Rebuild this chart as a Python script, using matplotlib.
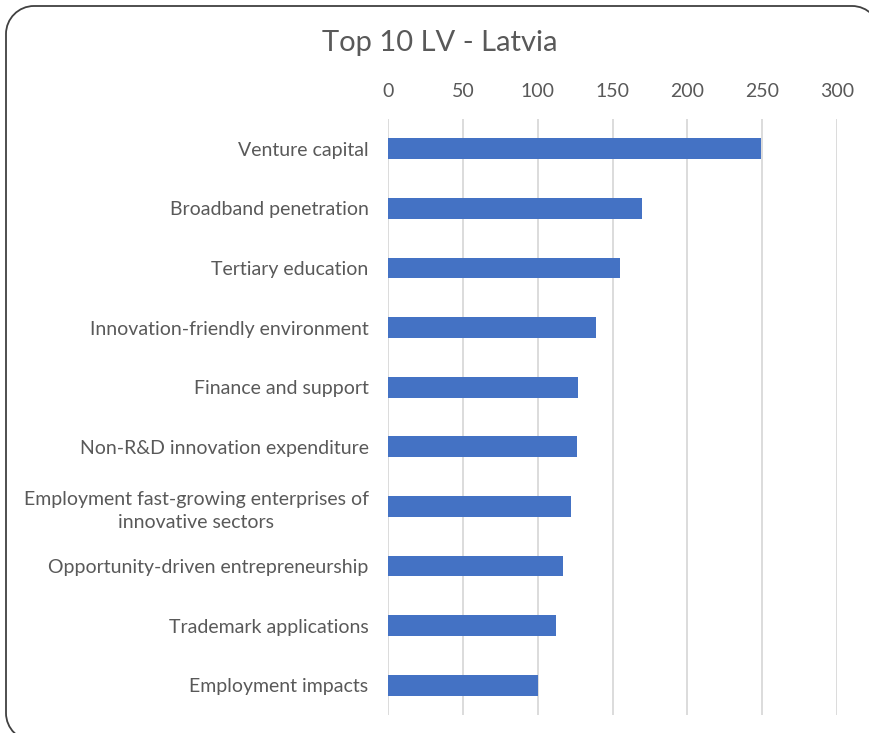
import numpy as np
import matplotlib.pyplot as plt
from matplotlib.patches import PathPatch
from matplotlib.path import Path
from matplotlib.transforms import IdentityTransform

categories = [
    "Venture capital",
    "Broadband penetration",
    "Tertiary education",
    "Innovation-friendly environment",
    "Finance and support",
    "Non-R&D innovation expenditure",
    "Employment fast-growing enterprises of\ninnovative sectors",
    "Opportunity-driven entrepreneurship",
    "Trademark applications",
    "Employment impacts",
]
values = [249, 170, 155, 139, 127, 126, 122, 117, 112, 100]
x_ticks = [0, 50, 100, 150, 200, 250, 300]

TEXT = "#595959"
BAR = "#4472C4"
GRID = "#D9D9D9"


def border_path(W, H, left=6, top=6, right=880, bottom=741, r=28):
    # open outline: bottom edge -> left side -> top edge -> top-right corner
    k = 0.5523 * r
    yt, yb = H - top, H - bottom
    verts = [
        (W + 5, yb), (left + r, yb),
        (left + r - k, yb), (left, yb + r - k), (left, yb + r),
        (left, yt - r),
        (left, yt - r + k), (left + r - k, yt), (left + r, yt),
        (right - r, yt),
        (right - r + k, yt), (right, yt - r + k), (right, yt - r),
    ]
    codes = [Path.MOVETO, Path.LINETO,
             Path.CURVE4, Path.CURVE4, Path.CURVE4,
             Path.LINETO,
             Path.CURVE4, Path.CURVE4, Path.CURVE4,
             Path.LINETO,
             Path.CURVE4, Path.CURVE4, Path.CURVE4]
    return Path(verts, codes)


def main():
    plt.rcParams["font.family"] = ["Lato", "DejaVu Sans"]
    fig = plt.figure(figsize=(8.69, 7.33), dpi=100)
    W, H = 869, 733

    frame = PathPatch(border_path(W, H), transform=IdentityTransform(),
                      facecolor="none", edgecolor="#404040", linewidth=1.3, zorder=-1)
    fig.patches.append(frame)

    ax = fig.add_axes([388 / W, 1 - 715 / H, (837 - 388) / W, (715 - 119) / H])
    ax.patch.set_alpha(0)
    y = np.arange(len(categories))
    ax.barh(y, values, height=0.35, color=BAR, zorder=3)

    ax.set_xlim(0, 300)
    ax.set_ylim(len(categories) - 0.5, -0.5)
    ax.set_xticks(x_ticks)
    ax.xaxis.tick_top()
    ax.set_yticks(y)
    ax.set_yticklabels(categories)
    for lab in ax.get_yticklabels():
        lab.set_multialignment("center")
        lab.set_linespacing(1.45)
    ax.tick_params(axis="both", length=0, colors=TEXT, labelsize=14)
    ax.tick_params(axis="x", pad=14)
    ax.tick_params(axis="y", pad=14)
    ax.grid(axis="x", color=GRID, linewidth=1.3, zorder=0)
    for s in ax.spines.values():
        s.set_visible(False)

    fig.text(440 / W, 1 - 43 / H, "Top 10 LV - Latvia", ha="center", va="center",
             fontsize=21, color=TEXT)

    fig.savefig("out.png", dpi=100)
    plt.close(fig)


if __name__ == "__main__":
    main()
